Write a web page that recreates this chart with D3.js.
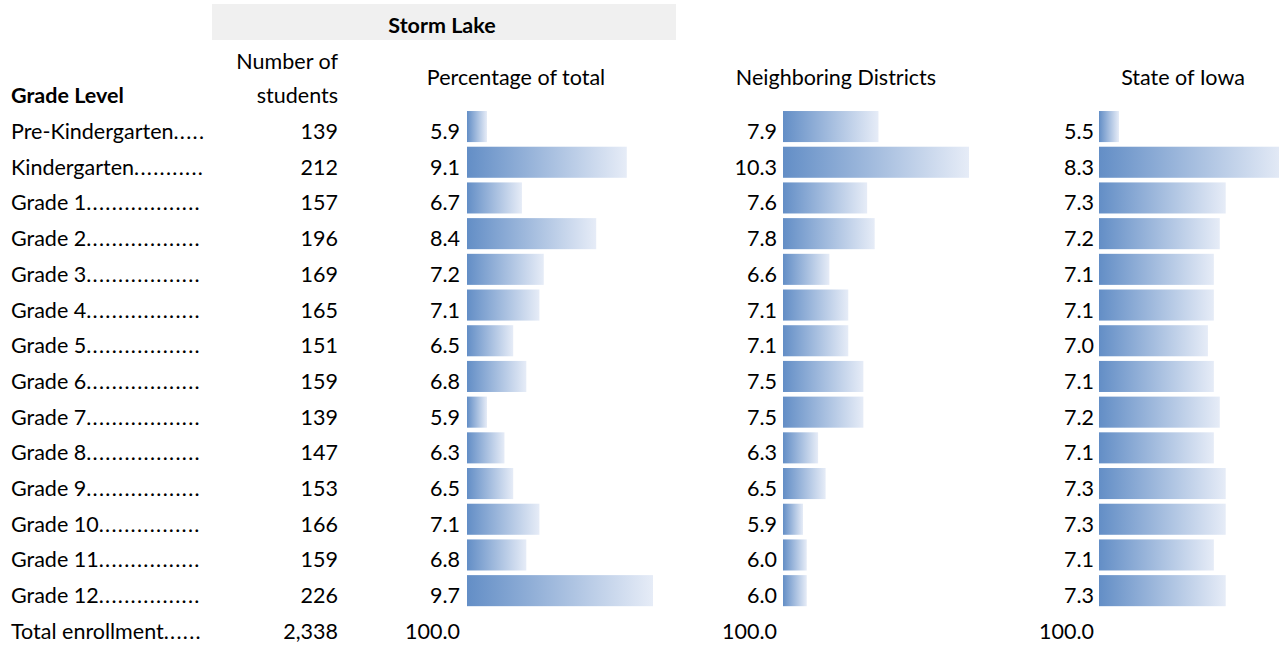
<!DOCTYPE html>
<html><head><meta charset="utf-8">
<script src="https://cdn.jsdelivr.net/npm/d3@7"></script>
<style>
body{margin:0;background:#fff;}
text{font-family:Lato,"Open Sans",sans-serif;fill:#000;}
</style></head>
<body>
<svg id="c" width="1279" height="646"></svg>
<script>
const grades = ["Pre-Kindergarten","Kindergarten","Grade 1","Grade 2","Grade 3","Grade 4","Grade 5","Grade 6","Grade 7","Grade 8","Grade 9","Grade 10","Grade 11","Grade 12"];
const students = [139,212,157,196,169,165,151,159,139,147,153,166,159,226];
const pctStormLake = [5.9,9.1,6.7,8.4,7.2,7.1,6.5,6.8,5.9,6.3,6.5,7.1,6.8,9.7];
const pctNeighboring = [7.9,10.3,7.6,7.8,6.6,7.1,7.1,7.5,7.5,6.3,6.5,5.9,6.0,6.0];
const pctIowa = [5.5,8.3,7.3,7.2,7.1,7.1,7.0,7.1,7.2,7.1,7.3,7.3,7.1,7.3];
const totalLabel = "Total enrollment";
const totalStudents = "2,338";
const totalPct = "100.0";
const headers = {group:"Storm Lake", grade:"Grade Level", num:["Number of","students"], cols:["Percentage of total","Neighboring Districts","State of Iowa"]};

const FS = 21.5;
const svg = d3.select("#c");
const defs = svg.append("defs");
const grad = defs.append("linearGradient").attr("id","g").attr("x1","0").attr("x2","1").attr("y1","0").attr("y2","0");
grad.append("stop").attr("offset","0").attr("stop-color","#638ec6");
grad.append("stop").attr("offset","1").attr("stop-color","#e6ecf7");

const y = d3.scaleBand().domain(d3.range(grades.length)).range([108.7, 108.7 + 14*35.7]).paddingInner(0.13).paddingOuter(0.065);
const base = i => y(i) + 28;
const totalBase = y(0) + grades.length*y.step() + 28;

// header band
svg.append("rect").attr("x",212).attr("y",4).attr("width",464).attr("height",36).attr("fill","#f0f0f0");
svg.append("text").attr("x",442).attr("y",33).attr("text-anchor","middle").attr("font-weight","bold").attr("font-size",FS).text(headers.group);
svg.append("text").attr("x",11).attr("y",103).attr("font-weight","bold").attr("font-size",FS).text(headers.grade);
svg.append("text").attr("x",338).attr("y",69).attr("text-anchor","end").attr("font-size",FS).text(headers.num[0]);
svg.append("text").attr("x",338).attr("y",103).attr("text-anchor","end").attr("font-size",FS).text(headers.num[1]);
const colCenters = [516, 836, 1183];
headers.cols.forEach((h,k)=>{
  svg.append("text").attr("x",colCenters[k]).attr("y",85).attr("text-anchor","middle").attr("font-size",FS).text(h);
});

// row labels with dot leaders
const labelEnd = 207;
[...grades, totalLabel].forEach((g,i)=>{
  const t = svg.append("text").attr("x",11).attr("y", i<grades.length?base(i):totalBase).attr("font-size",FS);
  t.append("tspan").text(g);
  const dots = t.append("tspan").attr("letter-spacing",1.3);
  let s = "";
  while (true) {
    dots.text(s + ".");
    if (11 + t.node().getComputedTextLength() > labelEnd) { dots.text(s); break; }
    s += ".";
  }
});

// student counts
svg.selectAll(".num").data(students).join("text").attr("class","num")
  .attr("x",338).attr("y",(d,i)=>base(i)).attr("text-anchor","end").attr("font-size",FS).text(d=>d);
svg.append("text").attr("x",338).attr("y",totalBase).attr("text-anchor","end").attr("font-size",FS).text(totalStudents);

// data-bar columns
const cols = [
  {vals:pctStormLake, labelX:460, barX:467},
  {vals:pctNeighboring, labelX:777, barX:783},
  {vals:pctIowa, labelX:1094, barX:1099}
];
cols.forEach(c=>{
  const x = d3.scaleLinear().domain(d3.extent(c.vals)).range([20,186]);
  const g = svg.append("g");
  g.selectAll("rect").data(c.vals).join("rect")
    .attr("x",c.barX).attr("y",(d,i)=>y(i)).attr("height",y.bandwidth())
    .attr("width",d=>x(d)).attr("fill","url(#g)");
  g.selectAll("text").data(c.vals).join("text")
    .attr("x",c.labelX).attr("y",(d,i)=>base(i)).attr("text-anchor","end").attr("font-size",FS)
    .text(d=>d3.format(".1f")(d));
  g.append("text").attr("x",c.labelX).attr("y",totalBase).attr("text-anchor","end").attr("font-size",FS).text(totalPct);
});
</script>
</body></html>
